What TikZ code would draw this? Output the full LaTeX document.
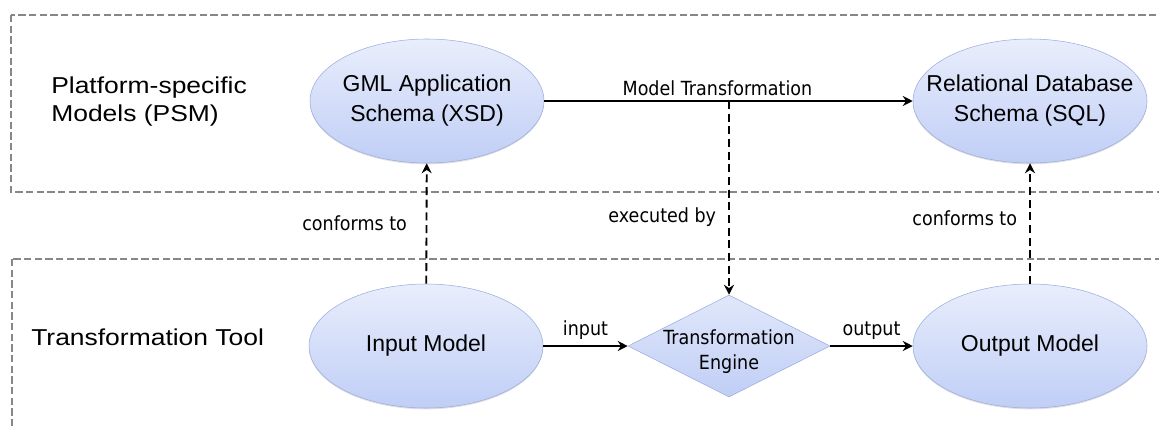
\documentclass[tikz,border=0pt]{standalone}
\usepackage{fontspec}
\setmainfont{Liberation Sans}
\newfontfamily\edgefont[FakeStretch=0.9]{DejaVu Sans}
\newfontfamily\tierfont[FakeStretch=1.15]{Liberation Sans}
\usetikzlibrary{shapes.geometric,arrows.meta,shadows}

\definecolor{modeltop}{RGB}{233,238,252}
\definecolor{modelbot}{RGB}{192,206,246}
\definecolor{modelline}{RGB}{156,172,222}
\definecolor{tierline}{RGB}{135,135,135}

\def\px{0.75pt}
\def\mlist{{(427,101)/gml/GML Application\\Schema (XSD)}, {(1030,101)/rdb/Relational Database\\Schema (SQL)}, {(426,346)/input/Input Model}, {(1030,346)/output/Output Model}}
\tikzstyle{tier}=[draw=tierline, line width=1.6pt, dash pattern=on 5.5pt off 2.5pt]
\tikzstyle{tier label}=[anchor=west, align=left, inner sep=0pt, font=\tierfont\fontsize{17.25}{21}\selectfont]
\tikzstyle{model}=[ellipse, draw=modelline, top color=modeltop, bottom color=modelbot, minimum width=234*\px, minimum height=124*\px, inner sep=0pt, drop shadow={shadow xshift=0pt, shadow yshift=-1pt, opacity=.25}]
\tikzstyle{engine}=[diamond, draw=modelline, top color=modeltop!80!modelbot, bottom color=modelbot, minimum width=202*\px, minimum height=102*\px, inner sep=0pt]
\tikzstyle{modeltext}=[align=center, font=\fontsize{17.25}{22.5}\selectfont]
\tikzstyle{edgetext}=[align=center, inner sep=2pt, font=\edgefont\fontsize{14.6}{18.7}\selectfont]
\tikzstyle{flow}=[draw, line width=1.4pt, -{Stealth[length=7.5pt, width=7.5pt, inset=2.5pt]}]
\tikzstyle{link}=[flow, dash pattern=on 6pt off 3.5pt]

\begin{document}
\begin{tikzpicture}[x=\px, y=-\px]
  \useasboundingbox (0,0) rectangle (1159,425);

  % the two tiers
  \draw[tier] (11,15) rectangle (1180,192);
  \draw[tier] (12,259) rectangle (1180,450);
  \node[tier label] (psm) at (51,102) {Platform-specific\\Models (PSM)};
  \node[tier label] (tool) at (31,337) {Transformation Tool};

  \foreach \pos/\name/\txt in \mlist {
    \node[model, label={[modeltext]center:\txt}] (\name) at \pos {};
  }
  \node[engine, label={[edgetext, yshift=-4pt]center:Transformation\\Engine}] (engine) at (729,346) {};

  \path[flow] (gml) -- node[edgetext, above=1pt, pos=.47] {Model Transformation} (rdb);
  \path[flow] (input) -- node[edgetext, above=2pt] {input} (engine);
  \path[flow] (engine) -- node[edgetext, above=2pt] {output} (output);

  \coordinate (split) at (engine.north |- gml.east);
  \path[link] (split) -- node[edgetext, left=7pt, pos=.6] {executed by} (engine);
  \path[link] (input) -- node[edgetext, left=12pt] {conforms to} (gml);
  \path[link] (output) -- node[edgetext, left=7pt, pos=.54] {conforms to} (rdb);
\end{tikzpicture}
\end{document}
